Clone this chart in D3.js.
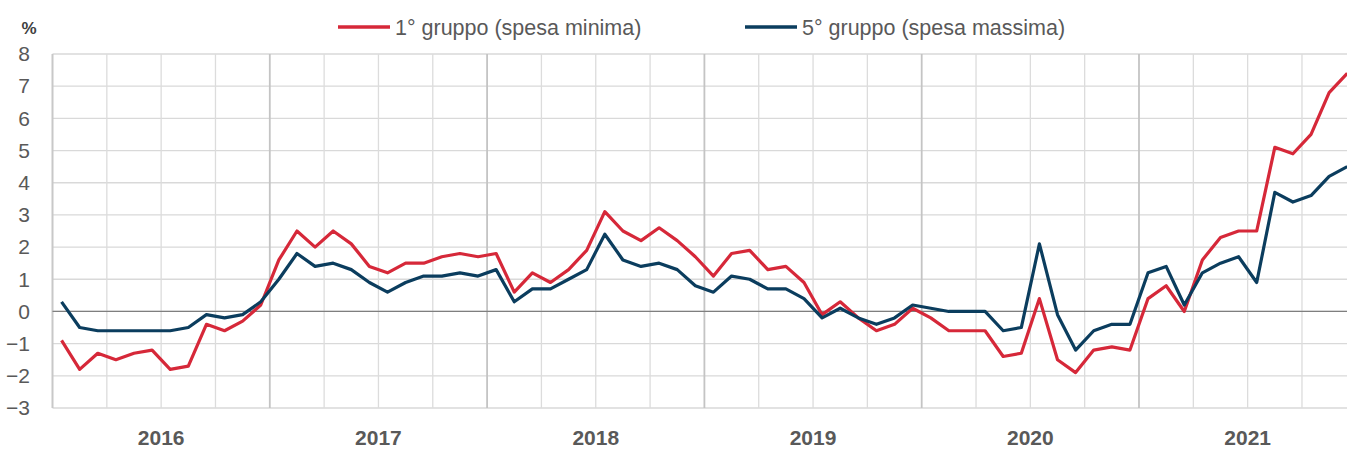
<!DOCTYPE html>
<html>
<head>
<meta charset="utf-8">
<script src="https://cdnjs.cloudflare.com/ajax/libs/d3/7.8.5/d3.min.js"></script>
<style>
  body { margin: 0; background: #fff; }
  svg { display: block; overflow: hidden; font-family: "Liberation Sans", Arial, sans-serif; }
</style>
</head>
<body>
<div id="chart"></div>
<script>
// data, monthly from Jan 2016 to Dec 2021
var years = [2016, 2017, 2018, 2019, 2020, 2021];
var yTicks = [-3, -2, -1, 0, 1, 2, 3, 4, 5, 6, 7, 8];

var gruppo1 = [
  -0.9, -1.8, -1.3, -1.5, -1.3, -1.2, -1.8, -1.7, -0.4, -0.6, -0.3, 0.2,
  1.6, 2.5, 2.0, 2.5, 2.1, 1.4, 1.2, 1.5, 1.5, 1.7, 1.8, 1.7,
  1.8, 0.6, 1.2, 0.9, 1.3, 1.9, 3.1, 2.5, 2.2, 2.6, 2.2, 1.7,
  1.1, 1.8, 1.9, 1.3, 1.4, 0.9, -0.1, 0.3, -0.2, -0.6, -0.4, 0.1,
  -0.2, -0.6, -0.6, -0.6, -1.4, -1.3, 0.4, -1.5, -1.9, -1.2, -1.1, -1.2,
  0.4, 0.8, 0.0, 1.6, 2.3, 2.5, 2.5, 5.1, 4.9, 5.5, 6.8, 7.4
];

var gruppo5 = [
  0.3, -0.5, -0.6, -0.6, -0.6, -0.6, -0.6, -0.5, -0.1, -0.2, -0.1, 0.3,
  1.0, 1.8, 1.4, 1.5, 1.3, 0.9, 0.6, 0.9, 1.1, 1.1, 1.2, 1.1,
  1.3, 0.3, 0.7, 0.7, 1.0, 1.3, 2.4, 1.6, 1.4, 1.5, 1.3, 0.8,
  0.6, 1.1, 1.0, 0.7, 0.7, 0.4, -0.2, 0.1, -0.2, -0.4, -0.2, 0.2,
  0.1, 0.0, 0.0, 0.0, -0.6, -0.5, 2.1, -0.1, -1.2, -0.6, -0.4, -0.4,
  1.2, 1.4, 0.2, 1.2, 1.5, 1.7, 0.9, 3.7, 3.4, 3.6, 4.2, 4.5
];

var seriesNames = ["1° gruppo (spesa minima)", "5° gruppo (spesa massima)"];
var seriesColors = ["#d62839", "#0b3d5e"];

var width = 1347, height = 450;
var margin = { top: 54, left: 52.5, bottom: 42 };
var yearWidth = 217.3;
var plotRight = margin.left + yearWidth * years.length; // goes past the window, cropped

var svg = d3.select("#chart").append("svg")
  .attr("width", width)
  .attr("height", height);

// month index -> x (points centred in each month band)
var nMonths = years.length * 12;
var x = d3.scaleLinear()
  .domain([0, nMonths])
  .range([margin.left, plotRight]);

var y = d3.scaleLinear()
  .domain([-3, 8])
  .range([height - margin.bottom, margin.top]);

var grid = svg.append("g").attr("class", "grid");

// horizontal gridlines
grid.selectAll("line.h")
  .data(yTicks)
  .enter().append("line")
  .attr("x1", margin.left).attr("x2", plotRight)
  .attr("y1", function(d) { return y(d); })
  .attr("y2", function(d) { return y(d); })
  .attr("stroke", "#d9d9d9")
  .attr("stroke-width", 1.3);

// vertical gridlines every quarter, year boundaries a bit darker
var quarters = d3.range(3, nMonths, 3);
grid.selectAll("line.v")
  .data(quarters)
  .enter().append("line")
  .attr("x1", function(d) { return x(d); })
  .attr("x2", function(d) { return x(d); })
  .attr("y1", y(8)).attr("y2", y(-3))
  .attr("stroke", function(d) { return d % 12 === 0 ? "#c4c4c4" : "#dcdcdc"; })
  .attr("stroke-width", function(d) { return d % 12 === 0 ? 1.8 : 1.3; });

// left axis line
svg.append("line")
  .attr("x1", margin.left).attr("x2", margin.left)
  .attr("y1", y(8)).attr("y2", y(-3))
  .attr("stroke", "#c8c8c8")
  .attr("stroke-width", 2);

// zero line
svg.append("line")
  .attr("x1", margin.left).attr("x2", plotRight)
  .attr("y1", y(0)).attr("y2", y(0))
  .attr("stroke", "#7f7f7f")
  .attr("stroke-width", 1.2);

// y axis labels
var yAxis = d3.axisLeft(y).tickValues(yTicks).tickSize(0).tickPadding(0);
var yAxisG = svg.append("g")
  .attr("transform", "translate(30,0)")
  .call(yAxis);
yAxisG.select(".domain").remove();
yAxisG.selectAll("text")
  .attr("fill", "#595959")
  .style("font-size", "21px")
  .style("font-family", "'Liberation Sans', Arial, sans-serif");

svg.append("text")
  .attr("x", 29).attr("y", 34)
  .attr("text-anchor", "middle")
  .attr("fill", "#404040")
  .style("font-size", "17px")
  .style("font-weight", "bold")
  .text("%");

// year labels
svg.append("g").selectAll("text")
  .data(years)
  .enter().append("text")
  .attr("x", function(d, i) { return x(i * 12 + 6); })
  .attr("y", 445)
  .attr("text-anchor", "middle")
  .attr("fill", "#595959")
  .style("font-size", "21px")
  .style("font-weight", "bold")
  .text(function(d) { return d; });

// lines
var line = d3.line()
  .x(function(d, i) { return x(i + 0.5); })
  .y(function(d) { return y(d); });

[gruppo1, gruppo5].forEach(function(s, k) {
  svg.append("path")
    .datum(s)
    .attr("d", line)
    .attr("fill", "none")
    .attr("stroke", seriesColors[k])
    .attr("stroke-width", 3.2)
    .attr("stroke-linejoin", "round");
});

// legend
var legendX = [338, 745];
var legend = svg.append("g").selectAll("g")
  .data(seriesNames)
  .enter().append("g")
  .attr("transform", function(d, i) { return "translate(" + legendX[i] + ",27)"; });

legend.append("line")
  .attr("x1", 0).attr("x2", 52)
  .attr("stroke", function(d, i) { return seriesColors[i]; })
  .attr("stroke-width", 3.5);

legend.append("text")
  .attr("x", 57).attr("y", 8)
  .attr("fill", "#595959")
  .style("font-size", "21.5px")
  .text(function(d) { return d; });
</script>
</body>
</html>
